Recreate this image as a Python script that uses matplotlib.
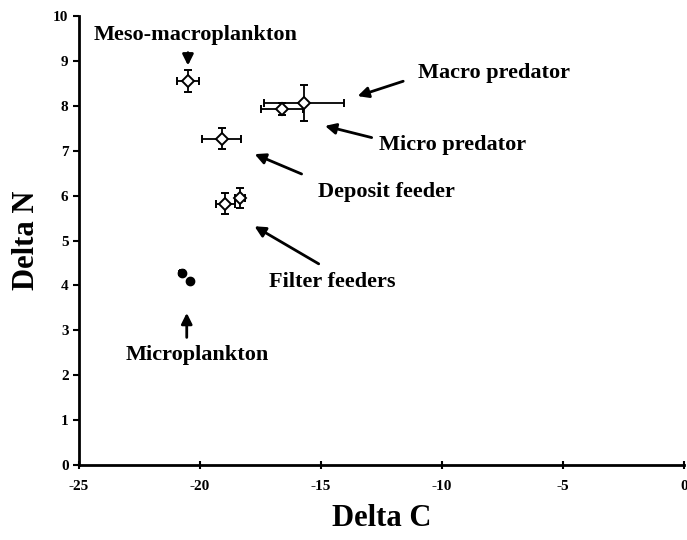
import matplotlib
matplotlib.use("Agg")
import matplotlib.pyplot as plt

plt.rcParams['font.family'] = ['Liberation Serif', 'DejaVu Serif']
plt.rcParams['font.weight'] = 'bold'
plt.rcParams['axes.unicode_minus'] = False

# groups (delta C, delta N, errors)
delta_c = [-20.5, -15.7, -16.6, -19.1, -18.95, -18.35]
delta_n = [8.55, 8.07, 7.93, 7.27, 5.82, 5.95]
err_c = [0.47, 1.64, 0.87, 0.8, 0.38, 0.19]
err_n = [0.25, 0.40, 0.13, 0.23, 0.23, 0.22]

# microplankton (filled)
micro_c = [-20.75, -20.4]
micro_n = [4.28, 4.09]
micro_err_c = [0.12, 0.1]
micro_err_n = [0.06, 0.05]

labels = ["Meso-macroplankton", "Macro predator", "Micro predator",
          "Deposit feeder", "Filter feeders", "Microplankton"]
label_xy = [(-20.2, 9.57), (-7.85, 8.73), (-9.55, 7.13),
            (-12.3, 6.08), (-14.55, 4.08), (-20.1, 2.45)]
arrow_tail = [(-20.5, 9.25), (-11.5, 8.57), (-12.8, 7.28),
              (-15.7, 6.46), (-15.0, 4.45), (-20.55, 2.78)]
arrow_head = [(-20.5, 8.84), (-13.6, 8.2), (-14.95, 7.57),
              (-17.85, 6.95), (-17.85, 5.35), (-20.55, 3.45)]

fig = plt.figure(figsize=(6.87, 5.40), dpi=100)
ax = fig.add_axes([0.115, 0.139, 0.881, 0.831])

ax.errorbar(delta_c, delta_n, xerr=err_c, yerr=err_n, fmt='D', color='black',
            markerfacecolor='white', markeredgecolor='black', markersize=6,
            markeredgewidth=1.4, ecolor='black', elinewidth=1.3, capsize=3,
            capthick=1.3)
ax.errorbar(micro_c, micro_n, xerr=micro_err_c, yerr=micro_err_n, fmt='o',
            color='black', markersize=6, ecolor='black', elinewidth=1.3,
            capsize=2, capthick=1.3)

for lab, (tx, ty), tail, head in zip(labels, label_xy, arrow_tail, arrow_head):
    ax.text(tx, ty, lab, ha='center', va='center', fontsize=16, fontweight='bold')
    ax.annotate('', xy=head, xytext=tail,
                arrowprops=dict(arrowstyle='-|>', color='black', lw=2,
                                mutation_scale=16))

ax.set_xlim(-25, 0)
ax.set_ylim(0, 10)
ax.set_xticks([-25, -20, -15, -10, -5, 0])
ax.set_yticks(range(0, 11))
ax.spines['top'].set_visible(False)
ax.spines['right'].set_visible(False)
ax.spines['left'].set_linewidth(2)
ax.spines['bottom'].set_linewidth(2)
ax.tick_params(axis='both', labelsize=11, width=1.5, length=4)
ax.tick_params(axis='x', direction='inout', length=6, pad=8)
for t in ax.get_xticklabels() + ax.get_yticklabels():
    t.set_fontweight('bold')

ax.set_xlabel("Delta C", fontsize=22, fontweight='bold', labelpad=8)
ax.set_ylabel("Delta N", fontsize=22, fontweight='bold', labelpad=9)

fig.savefig("out.png", dpi=100)
